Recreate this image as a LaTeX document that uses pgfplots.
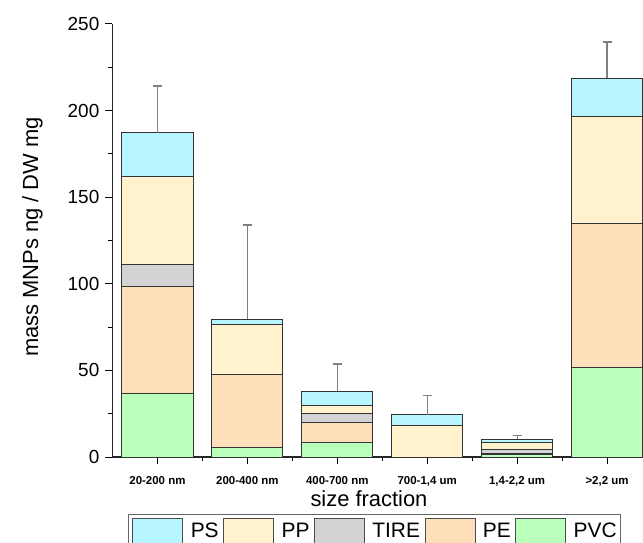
\documentclass[border=0pt]{standalone}
\usepackage{pgfplots}
\pgfplotsset{compat=1.18}
\usepackage{fontspec}
\setmainfont{Liberation Sans}
\definecolor{cPS}{RGB}{183,245,255}
\definecolor{cPP}{RGB}{255,242,204}
\definecolor{cTIRE}{RGB}{211,211,211}
\definecolor{cPE}{RGB}{255,222,186}
\definecolor{cPVC}{RGB}{186,255,186}
\pgfplotsset{
  mybar/.style={fill=#1, draw=black!80, line width=0.9bp,
    legend image code/.code={\draw[fill=#1, draw=black!70, line width=0.9bp] (0bp,-13bp) rectangle (50bp,13bp);}},
  common/.style={scale only axis, width=530.5bp, height=433bp,
    xmin=-0.5, xmax=5.4, ymin=0, ymax=250},
}
\begin{document}
\begin{tikzpicture}
\begin{axis}[common,
  ybar stacked, bar width=0.79,
  axis x line*=bottom, axis y line*=left,
  axis line style={line width=1.1bp, black!85},
  xtick={0,...,5},
  xticklabels={20-200 nm, 200-400 nm, 400-700 nm, {700-1,4 um}, {1,4-2,2 um}, {>2,2 um}},
  minor xtick={0.5,1.5,2.5,3.5,4.5},
  ytick={0,50,...,250}, minor ytick={25,75,...,225},
  tick align=outside,
  major tick length=7bp, minor tick length=4bp,
  every tick/.style={line width=1bp, black},
  /pgf/number format/assume math mode=true,
  xticklabel style={font=\fontsize{11.5}{13}\selectfont\bfseries, inner sep=0pt, yshift=-12bp},
  yticklabel style={font=\fontsize{19}{21}\selectfont, inner sep=0pt, xshift=-6bp},
  xlabel={size fraction},
  xlabel style={at={(axis description cs:0.4835,-0.097)}, anchor=center, font=\fontsize{22}{24}\selectfont},
  ylabel={mass MNPs ng / DW mg},
  ylabel style={at={(axis description cs:-0.151,0.508)}, anchor=center, font=\fontsize{22}{24}\selectfont},
  legend columns=5, reverse legend,
  legend style={at={(axis description cs:0.494,-0.1316)}, anchor=north,
    draw=black!60, line width=1bp, inner xsep=3.5bp, inner ysep=3.5bp,
    font=\fontsize{21}{23}\selectfont,
    nodes={inner sep=0pt},
    /tikz/every odd column/.append style={column sep=7.5bp},
    /tikz/every even column/.append style={column sep=4.5bp}},
]
\addplot[mybar=cPVC] coordinates {(0,36.8) (1,5.4) (2,8.5) (3,0) (4,1.5) (5,51.6)};
\addplot[mybar=cPE] coordinates {(0,61.7) (1,42.3) (2,11.5) (3,0) (4,0.4) (5,83.3)};
\addplot[mybar=cTIRE] coordinates {(0,12.4) (1,0) (2,5.0) (3,0) (4,2.3) (5,0)};
\addplot[mybar=cPP] coordinates {(0,51.3) (1,28.7) (2,4.6) (3,18.5) (4,4.1) (5,61.6)};
\addplot[mybar=cPS] coordinates {(0,25.0) (1,3.3) (2,8.5) (3,5.9) (4,1.9) (5,22.1)};
\legend{PVC,PE,TIRE,PP,PS}
\end{axis}
\begin{axis}[common, hide axis]
\addplot[draw=none, mark=none,
  error bars/.cd, y dir=plus, y explicit,
  error bar style={line width=1.2bp, draw=gray},
  error mark options={rotate=90, draw=gray, mark size=4.5bp, line width=1.2bp}]
  coordinates {(0,187.2) +- (0,27.0) (1,79.7) +- (0,54.3) (2,38.1) +- (0,15.6)
               (3,24.4) +- (0,11.0) (4,10.2) +- (0,2.1) (5,218.6) +- (0,21.0)};
\end{axis}
\pgfresetboundingbox
\path[use as bounding box] (-112.5bp,-86bp) rectangle (530.5bp,457bp);
\end{tikzpicture}
\end{document}
